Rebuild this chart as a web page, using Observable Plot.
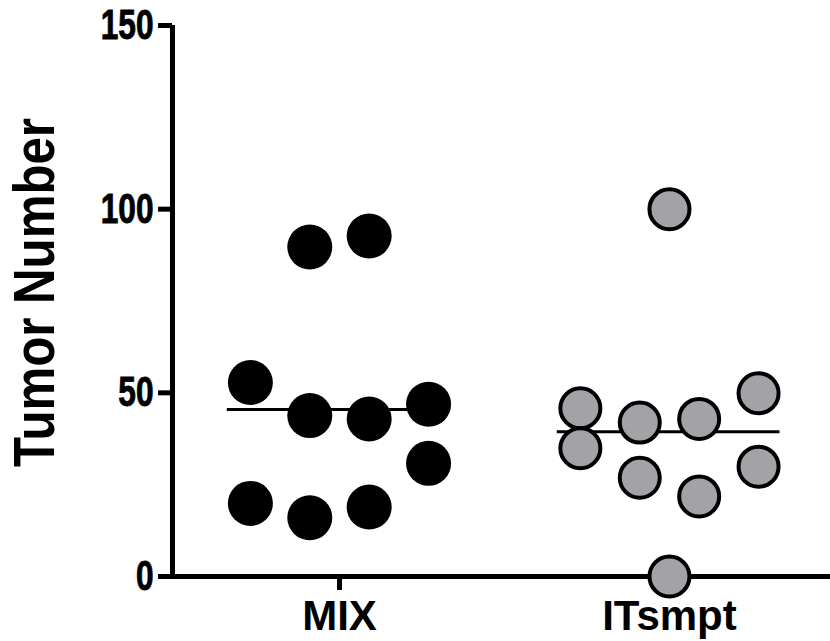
<!DOCTYPE html>
<html><head><meta charset="utf-8">
<script src="https://cdn.jsdelivr.net/npm/d3@7"></script>
<script src="https://cdn.jsdelivr.net/npm/@observablehq/plot@0.6"></script>
<style>html,body{margin:0;padding:0;background:#fff}</style>
</head><body><div id="chart"></div>
<script>
// ---- data ----
const groups = ["MIX", "ITsmpt"];
const mixValues = [89.7, 92.7, 52.8, 43.8, 42.9, 46.9, 30.8, 19.9, 16.0, 18.9];
const mixLanes  = [-0.5, 0.5, -1.5, -0.5, 0.5, 1.5, 1.5, -1.5, -0.5, 0.5];
const itsmptValues = [100, 45.8, 34.9, 41.9, 42.9, 49.9, 29.9, 26.9, 21.8, 0];
const itsmptLanes  = [0, -1.5, -1.5, -0.5, 0.5, 1.5, 1.5, -0.5, 0.5, 0];
const yTicks = [0, 50, 100, 150];
const yLabel = "Tumor Number";

// ---- tables ----
const mixRows = mixValues.map((v, i) => ({gi: 0, value: v, lane: mixLanes[i]}));
const itRows = itsmptValues.map((v, i) => ({gi: 1, value: v, lane: itsmptLanes[i]}));
const means = [
  {gi: 0, mean: d3.mean(mixValues)},
  {gi: 1, mean: d3.mean(itsmptValues)}
];

const laneStep = 0.18;
const x0 = -0.506, x1 = 1.488;
const font = "'Liberation Sans', Arial, Helvetica, sans-serif";
const narrow = "'Liberation Sans Narrow', 'Arial Narrow', 'Liberation Sans', Arial, sans-serif";

const svg = Plot.plot({
  width: 830, height: 641,
  marginLeft: 172, marginRight: 0, marginTop: 25, marginBottom: 65,
  x: {domain: [x0, x1], axis: null},
  y: {domain: [0, 150], axis: null},
  style: {fontFamily: font, background: "#fff", color: "#000", overflow: "visible"},
  marks: [
    Plot.axisY({ticks: yTicks, tickSize: 14, tickPadding: 5, strokeWidth: 5,
      fontSize: 42, fontWeight: "bold", label: null, tickFormat: d => String(d)}),
    Plot.axisX({ticks: [0, 1], tickFormat: i => groups[i], tickSize: 14, tickPadding: 10,
      strokeWidth: 5, fontSize: 42, fontWeight: "bold", label: null}),
    Plot.ruleX([x0], {x: d => d, y1: 0, y2: 150, strokeWidth: 5}),
    Plot.ruleY([0], {strokeWidth: 5}),
    Plot.ruleY(means, {y: "mean", x1: d => d.gi - 0.34, x2: d => d.gi + 0.335, strokeWidth: 3}),
    Plot.dot(mixRows, {x: d => d.gi + d.lane * laneStep, y: "value", r: 22.5, fill: "#000"}),
    Plot.dot(itRows, {x: d => d.gi + d.lane * laneStep, y: "value", r: 20,
      fill: "#a3a3a7", stroke: "#000", strokeWidth: 4})
  ]
});

const s = d3.select(svg);
s.selectAll('g[aria-label="y-axis tick label"] text').each(function() {
  const t = this.textContent;
  this.setAttribute("textLength", 17.6 * t.length);
  this.setAttribute("lengthAdjust", "spacingAndGlyphs");
  this.setAttribute("font-weight", "bold");
  this.setAttribute("font-family", narrow);
  this.setAttribute("stroke", "#000");
  this.setAttribute("stroke-width", "0.9");
});
s.selectAll('g[aria-label="x-axis tick label"] text').attr("font-weight", "bold");
s.append("text")
  .attr("transform", "translate(54,292.5) rotate(-90)")
  .attr("text-anchor", "middle")
  .attr("font-size", 57)
  .attr("font-weight", "bold")
  .attr("font-family", font)
  .attr("textLength", 349)
  .attr("lengthAdjust", "spacingAndGlyphs")
  .attr("fill", "#000")
  .text(yLabel);

document.getElementById("chart").appendChild(svg);
</script>
</body></html>
